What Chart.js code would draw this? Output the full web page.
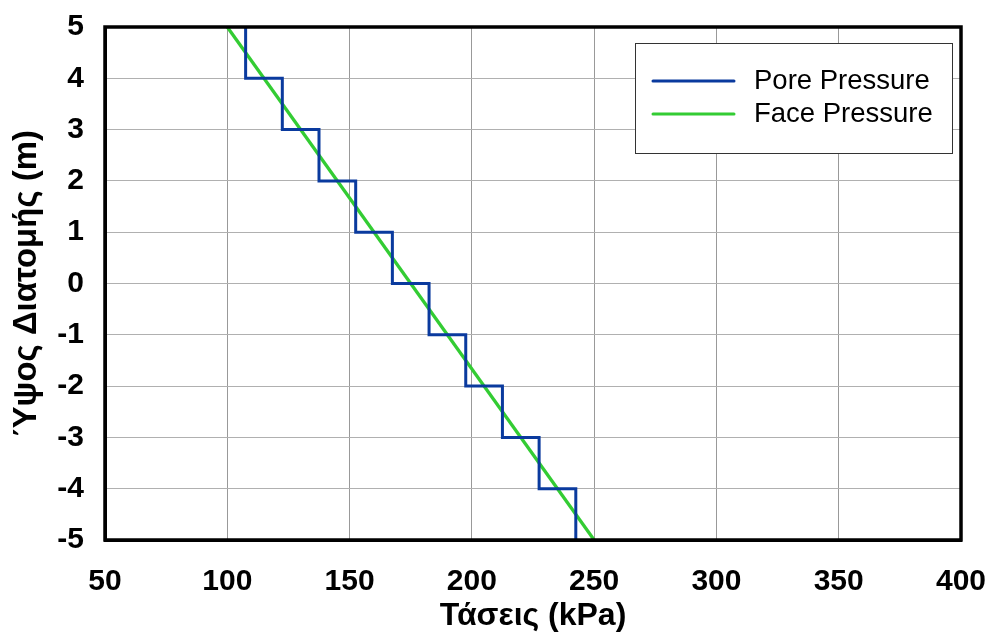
<!DOCTYPE html>
<html>
<head>
<meta charset="utf-8">
<script src="https://cdn.jsdelivr.net/npm/chart.js@4.4.1/dist/chart.umd.min.js"></script>
<style>
  body { margin: 0; background: #fff; }
  #wrap { width: 989px; height: 632px; }
</style>
</head>
<body>
<div id="wrap"><canvas id="chartTaseis"></canvas></div>
<script>
  // layers (top of each 1 m slice) and the pore pressure read in that slice
  const layerTop = [5, 4, 3, 2, 1, 0, -1, -2, -3, -4];
  const layerThick = 1;
  const poreValues = [107.5, 122.5, 137.5, 152.5, 167.5, 182.5, 197.5, 212.5, 227.5, 242.5];
  // face pressure line, end points
  const faceX = [100, 250];
  const faceY = [5, -5];
  const xTicks = [50, 100, 150, 200, 250, 300, 350, 400];
  const yTicks = [-5, -4, -3, -2, -1, 0, 1, 2, 3, 4, 5];
  const seriesNames = ["Pore Pressure", "Face Pressure"];
  const seriesColors = ["#0a3a9e", "#33cc33"];

  const porePoints = [];
  layerTop.forEach((top, i) => {
    porePoints.push({ x: poreValues[i], y: top });
    porePoints.push({ x: poreValues[i], y: top - layerThick });
  });
  const facePoints = faceX.map((x, i) => ({ x: x, y: faceY[i] }));

  Chart.defaults.font.family = "'Liberation Sans', Arial, sans-serif";
  Chart.defaults.color = "#000";

  const frameAndLegend = {
    id: "frameAndLegend",
    afterDraw(chart) {
      const ctx = chart.ctx;
      const a = chart.chartArea;
      ctx.save();
      ctx.strokeStyle = "#000";
      ctx.lineWidth = 3.5;
      ctx.strokeRect(a.left, a.top, a.right - a.left, a.bottom - a.top);

      // legend box inside the plot
      const bx = a.right - 326, by = a.top + 16, bw = 317, bh = 110;
      ctx.fillStyle = "#fff";
      ctx.fillRect(bx, by, bw, bh);
      ctx.lineWidth = 1;
      ctx.strokeStyle = "#333";
      ctx.strokeRect(bx + 0.5, by + 0.5, bw, bh);
      ctx.font = "27.5px 'Liberation Sans', Arial, sans-serif";
      ctx.textBaseline = "middle";
      ctx.fillStyle = "#000";
      chart.data.datasets.forEach((ds, i) => {
        const ly = by + 38 + i * 33;
        ctx.strokeStyle = ds.borderColor;
        ctx.lineWidth = 3;
        ctx.lineCap = "round";
        ctx.beginPath();
        ctx.moveTo(bx + 18, ly);
        ctx.lineTo(bx + 99, ly);
        ctx.stroke();
        ctx.fillText(ds.label, bx + 119, ly);
      });
      ctx.restore();
    }
  };

  new Chart(document.getElementById("chartTaseis").getContext("2d"), {
    type: "scatter",
    data: {
      datasets: [
        { label: seriesNames[0], data: porePoints, showLine: true, borderColor: seriesColors[0], borderWidth: 3, pointRadius: 0, fill: false },
        { label: seriesNames[1], data: facePoints, showLine: true, borderColor: seriesColors[1], borderWidth: 3.3, pointRadius: 0, fill: false }
      ]
    },
    options: {
      responsive: true,
      maintainAspectRatio: false,
      animation: false,
      layout: { padding: { top: 27, right: 28, left: 0, bottom: 0 } },
      plugins: { legend: { display: false }, tooltip: { enabled: false } },
      scales: {
        x: {
          type: "linear", min: 50, max: 400,
          afterBuildTicks: s => { s.ticks = xTicks.map(v => ({ value: v })); },
          afterFit: s => { s.height = 92; s.paddingLeft = 0; s.paddingRight = 0; },
          ticks: { font: { size: 30, weight: "bold" }, padding: 24, maxRotation: 0 },
          grid: { color: "#999", lineWidth: 1, drawTicks: false },
          border: { color: "#000", width: 3 },
          title: { display: true, text: "Τάσεις (kPa)", font: { size: 32, weight: "bold", lineHeight: 1 }, padding: { top: -4, bottom: 0 } }
        },
        y: {
          type: "linear", min: -5, max: 5,
          afterBuildTicks: s => { s.ticks = yTicks.map(v => ({ value: v })); },
          afterFit: s => { s.width = 105; s.paddingTop = 0; s.paddingBottom = 0; },
          ticks: { font: { size: 30, weight: "bold" }, padding: 21 },
          grid: { color: "#b0b0b0", lineWidth: 1, drawTicks: false },
          border: { color: "#000", width: 3 },
          title: { display: true, text: "Ύψος Διατομής (m)", font: { size: 33, weight: "bold", lineHeight: 1 }, padding: { top: 10, bottom: 0 } }
        }
      }
    },
    plugins: [frameAndLegend]
  });
</script>
</body>
</html>
